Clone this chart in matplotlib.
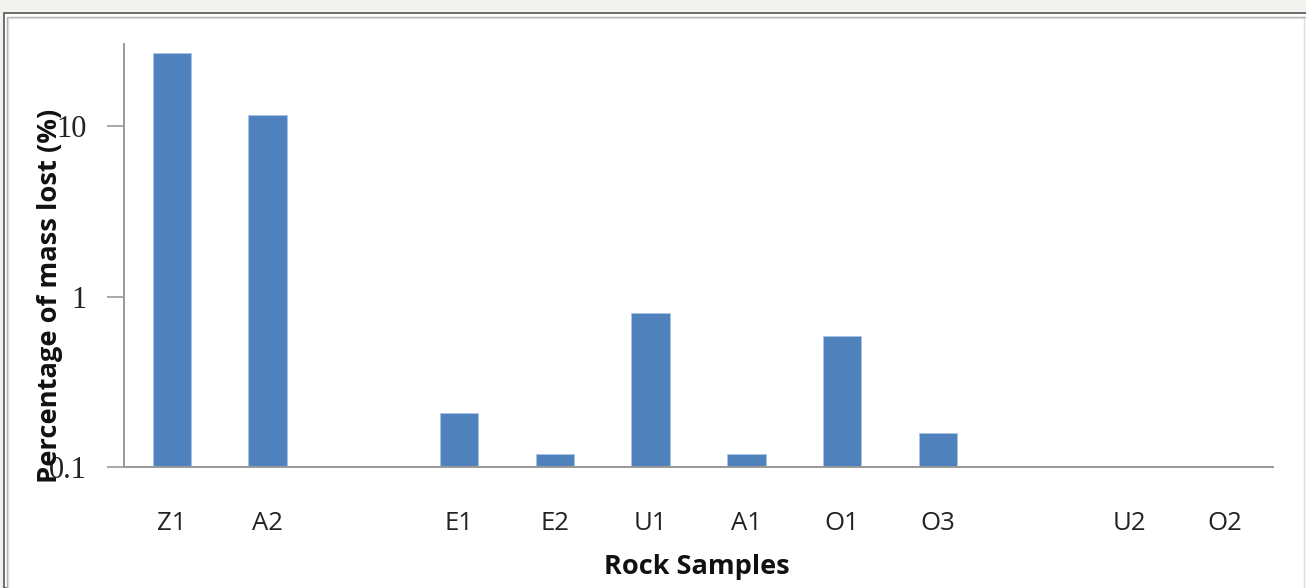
import numpy as np
import matplotlib
matplotlib.use('Agg')
import matplotlib.pyplot as plt
from matplotlib.patches import Rectangle

samples = ['Z1', 'A2', '', 'E1', 'E2', 'U1', 'A1', 'O1', 'O3', '', 'U2', 'O2']
mass_lost = [26.8, 11.6, np.nan, 0.207, 0.119, 0.80, 0.12, 0.59, 0.158, np.nan, np.nan, np.nan]
yticks = [0.1, 1, 10]
ytick_labels = ['0.1', '1', '10']

W, H = 1306, 588
fig = plt.figure(figsize=(W / 100, H / 100), dpi=100)
fig.patch.set_facecolor('#f2f2ee')

# chart area with the double border
fig.patches.append(Rectangle((4 / W, 0), 1.2, 1 - 13 / H, transform=fig.transFigure,
                             facecolor='white', edgecolor='#555555', linewidth=1.2, zorder=0))
fig.patches.append(Rectangle((7 / W, -0.1), 1.2, 1.1 - 17 / H, transform=fig.transFigure,
                             facecolor='white', edgecolor='#aaaaaa', linewidth=1.0, zorder=0))
fig.patches.append(Rectangle((8 / W, -0.1), (1304 - 8) / W, 1.1 - 18 / H, transform=fig.transFigure,
                             facecolor='white', edgecolor='#dddddd', linewidth=1.0, zorder=0))

ax = fig.add_axes([124 / W, 1 - 467 / H, (1273 - 124) / W, (467 - 44) / H])
ax.set_zorder(5)
ax.set_facecolor('none')

x = np.arange(len(samples))
ax.set_yscale('log')
ax.bar(x, mass_lost, width=0.4, color='#4f81bd', edgecolor='#a9c4e6', linewidth=0.6)

ax.set_ylim(0.1, 30.3)
ax.set_xlim(-0.5, len(samples) - 0.5)
ax.set_yticks(yticks)
ax.set_yticklabels(ytick_labels, family='Liberation Serif', fontsize=22, color='#222222')
ax.yaxis.set_minor_locator(matplotlib.ticker.NullLocator())
ax.set_xticks(x)
ax.set_xticklabels(samples, family='Open Sans', fontsize=18.5, color='#222222')
ax.tick_params(axis='y', length=12, width=1.2, color='#999999', pad=15)
ax.tick_params(axis='x', length=0, pad=32)

for side in ['top', 'right']:
    ax.spines[side].set_visible(False)
for side in ['left', 'bottom']:
    ax.spines[side].set_color('#999999')
    ax.spines[side].set_linewidth(1.4)

t1 = fig.text(50 / W, 1 - 296 / H, 'Percentage of mass lost (%)', rotation=90, ha='center', va='center',
              family='Open Sans', fontweight='bold', fontsize=19.7, color='#111111')
t2 = fig.text(697 / W, 1 - 567 / H, 'Rock Samples', ha='center', va='center',
              family='Open Sans', fontweight='bold', fontsize=19.5, color='#111111')
t1.set_zorder(6)
t2.set_zorder(6)

fig.savefig('out.png', dpi=100, facecolor=fig.get_facecolor())
